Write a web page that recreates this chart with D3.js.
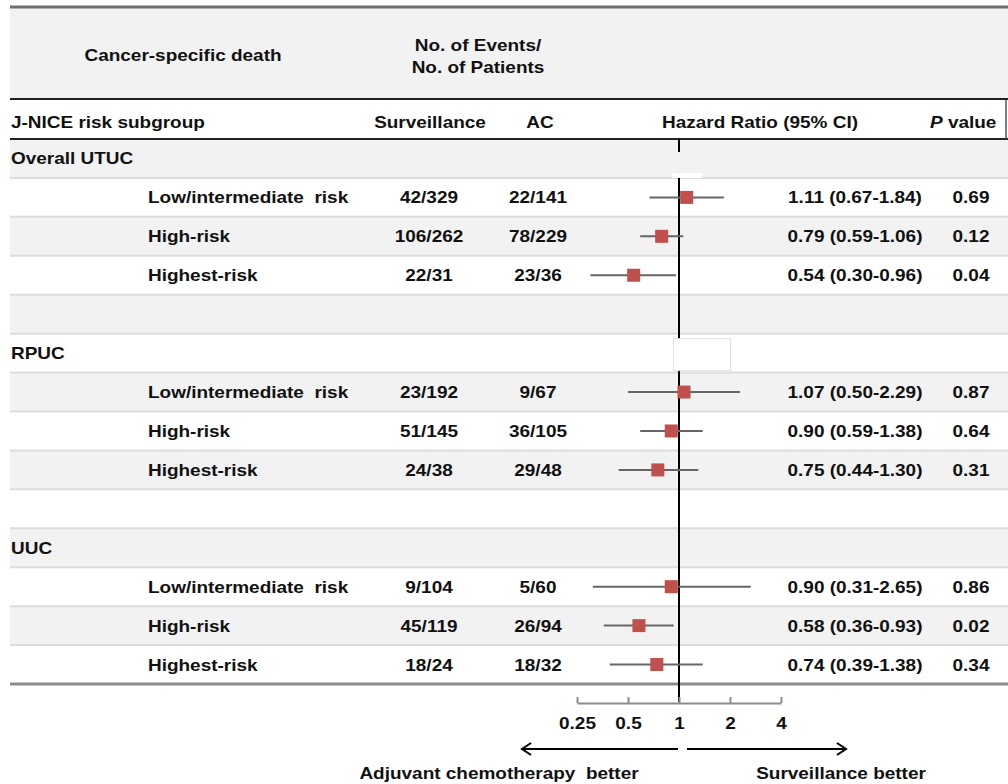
<!DOCTYPE html>
<html lang="en">
<head>
<meta charset="utf-8">
<script src="https://d3js.org/d3.v7.min.js"></script>
<style>
  body { margin: 0; background: #fff; }
  text { font-family: "Liberation Sans", Arial, sans-serif; font-weight: bold; fill: #111; font-size: 16.5px; white-space: pre; }
</style>
</head>
<body>
<script>
// data
var groups = ["Overall UTUC", "RPUC", "UUC"];
var subgroups = ["Low/intermediate  risk", "High-risk", "Highest-risk"];
var survEvents = ["42/329", "106/262", "22/31", "23/192", "51/145", "24/38", "9/104", "45/119", "18/24"];
var acEvents = ["22/141", "78/229", "23/36", "9/67", "36/105", "29/48", "5/60", "26/94", "18/32"];
var hr = [1.11, 0.79, 0.54, 1.07, 0.90, 0.75, 0.90, 0.58, 0.74];
var lower = [0.67, 0.59, 0.30, 0.50, 0.59, 0.44, 0.31, 0.36, 0.39];
var upper = [1.84, 1.06, 0.96, 2.29, 1.38, 1.30, 2.65, 0.93, 1.38];
var pvals = ["0.69", "0.12", "0.04", "0.87", "0.64", "0.31", "0.86", "0.02", "0.34"];
var tickVals = [0.25, 0.5, 1, 2, 4];

var width = 1008, height = 784
var left = 10, tableTop = 139, tableBottom = 684

var svg = d3.select("body").append("svg").attr("width", width).attr("height", height)

// 14 table rows: heading, 3 subgroups, blank, ...
var rows = []
groups.forEach(function(g, gi) {
    rows.push({type: "group", label: g})
    subgroups.forEach(function(s, si) {
        rows.push({type: "sub", label: s, k: gi * 3 + si})
    })
    if (gi < groups.length - 1) rows.push({type: "blank"})
})

var y = d3.scaleBand().domain(d3.range(rows.length)).range([tableTop, tableBottom])
var x = d3.scaleLog().base(2).domain([0.25, 4]).range([577, 781])
var fmt = d3.format(".2f")

function label(sel, px, py, s, anchor) {
    return sel.append("text")
        .attr("transform", "translate(" + px + "," + py + ") scale(1.15,1)")
        .attr("text-anchor", anchor)
        .text(s)
}

// header band
svg.append("rect").attr("x", left).attr("y", 8).attr("width", width - left).attr("height", 90).attr("fill", "#f2f2f2")

// row bands
svg.selectAll(".band").data(rows).enter().append("rect")
    .attr("class", "band")
    .attr("x", left).attr("y", function(d, i) { return y(i) })
    .attr("width", width - left).attr("height", y.bandwidth())
    .attr("fill", function(d, i) { return i % 2 == 0 ? "#f2f2f2" : "#ffffff" })

svg.selectAll(".sep").data(d3.range(1, rows.length)).enter().append("line")
    .attr("class", "sep")
    .attr("x1", left).attr("x2", width)
    .attr("y1", function(i) { return y(i) }).attr("y2", function(i) { return y(i) })
    .attr("stroke", "#dcdcdc").attr("stroke-width", 2)

// rules
svg.append("line").attr("x1", left).attr("x2", width).attr("y1", 7).attr("y2", 7).attr("stroke", "#6e6e6e").attr("stroke-width", 3)
svg.append("line").attr("x1", left).attr("x2", width).attr("y1", 99).attr("y2", 99).attr("stroke", "#222").attr("stroke-width", 2)
svg.append("line").attr("x1", left).attr("x2", width).attr("y1", tableTop).attr("y2", tableTop).attr("stroke", "#222").attr("stroke-width", 2)
svg.append("line").attr("x1", left).attr("x2", width).attr("y1", tableBottom).attr("y2", tableBottom).attr("stroke", "#8c8c8c").attr("stroke-width", 3)
svg.append("line").attr("x1", 1006).attr("x2", 1006).attr("y1", 100).attr("y2", tableTop).attr("stroke", "#555").attr("stroke-width", 1.5)

// header texts
label(svg, 183, 61, "Cancer-specific death", "middle")
label(svg, 478, 51, "No. of Events/", "middle")
label(svg, 478, 73, "No. of Patients", "middle")
label(svg, left + 1, 128, "J-NICE risk subgroup", "start")
label(svg, 430, 128, "Surveillance", "middle")
label(svg, 540, 128, "AC", "middle")
label(svg, 760, 128, "Hazard Ratio (95% CI)", "middle")
var pv = svg.append("text").attr("transform", "translate(930,128) scale(1.15,1)")
pv.append("tspan").attr("font-style", "italic").text("P")
pv.append("tspan").text(" value")

// reference line at HR = 1
var cx = x(1)
svg.append("line").attr("x1", cx).attr("x2", cx).attr("y1", tableTop).attr("y2", 702).attr("stroke", "#000").attr("stroke-width", 2)

// small scan artefacts over the reference line
svg.append("rect").attr("x", cx - 7).attr("y", y(0) + 13).attr("width", 30).attr("height", y.bandwidth() - 18).attr("fill", "#f2f2f2")
svg.append("rect").attr("x", cx - 7).attr("y", y(0) + y.bandwidth() - 5).attr("width", 30).attr("height", 5).attr("fill", "#fff")
svg.append("rect").attr("x", cx - 5.5).attr("y", y(5) + 5).attr("width", 57).attr("height", y.bandwidth() - 7)
    .attr("fill", "#fff").attr("stroke", "#e2e2e2").attr("stroke-width", 1)

// row texts and marks
rows.forEach(function(r, i) {
    var cy = y(i) + y.bandwidth() / 2
    if (r.type == "group") {
        label(svg, left + 1, cy + 6, r.label, "start")
    }
    if (r.type == "sub") {
        var k = r.k
        label(svg, 148, cy + 6, r.label, "start")
        label(svg, 429, cy + 6, survEvents[k], "middle")
        label(svg, 538, cy + 6, acEvents[k], "middle")
        label(svg, 855, cy + 6, fmt(hr[k]) + " (" + fmt(lower[k]) + "-" + fmt(upper[k]) + ")", "middle")
        label(svg, 971, cy + 6, pvals[k], "middle")
        svg.append("line")
            .attr("x1", x(lower[k])).attr("x2", x(upper[k]))
            .attr("y1", cy).attr("y2", cy)
            .attr("stroke", "#666").attr("stroke-width", 2)
        svg.append("rect")
            .attr("x", x(hr[k]) - 6.5).attr("y", cy - 6.5)
            .attr("width", 13).attr("height", 13)
            .attr("fill", "#c0504d")
    }
})

// axis
var axis = d3.axisBottom(x).tickValues(tickVals).tickFormat(function(d) { return d }).tickSizeInner(-6).tickSizeOuter(0).tickPadding(14)
var ax = svg.append("g").attr("transform", "translate(0,703)").call(axis)
ax.select(".domain").attr("stroke", "#8c8c8c").attr("stroke-width", 2)
ax.selectAll(".tick line").attr("stroke", "#8c8c8c").attr("stroke-width", 2)
ax.selectAll(".tick text").attr("font-size", "14px").attr("font-family", null).attr("fill", "#111")
    .attr("transform", "scale(1.15,1)").attr("x", function(d) { return 0 })

// arrows
var arrowY = 749
svg.append("path").attr("d", "M" + (cx - 1) + "," + arrowY + "H" + (cx - 157) + "m9,-6l-9,6l9,6")
    .attr("fill", "none").attr("stroke", "#000").attr("stroke-width", 2)
svg.append("path").attr("d", "M" + (cx + 8) + "," + arrowY + "H" + (cx + 167) + "m-9,-6l9,6l-9,6")
    .attr("fill", "none").attr("stroke", "#000").attr("stroke-width", 2)

label(svg, 499, 779, "Adjuvant chemotherapy  better", "middle")
label(svg, 841, 779, "Surveillance better", "middle")
</script>
</body>
</html>
